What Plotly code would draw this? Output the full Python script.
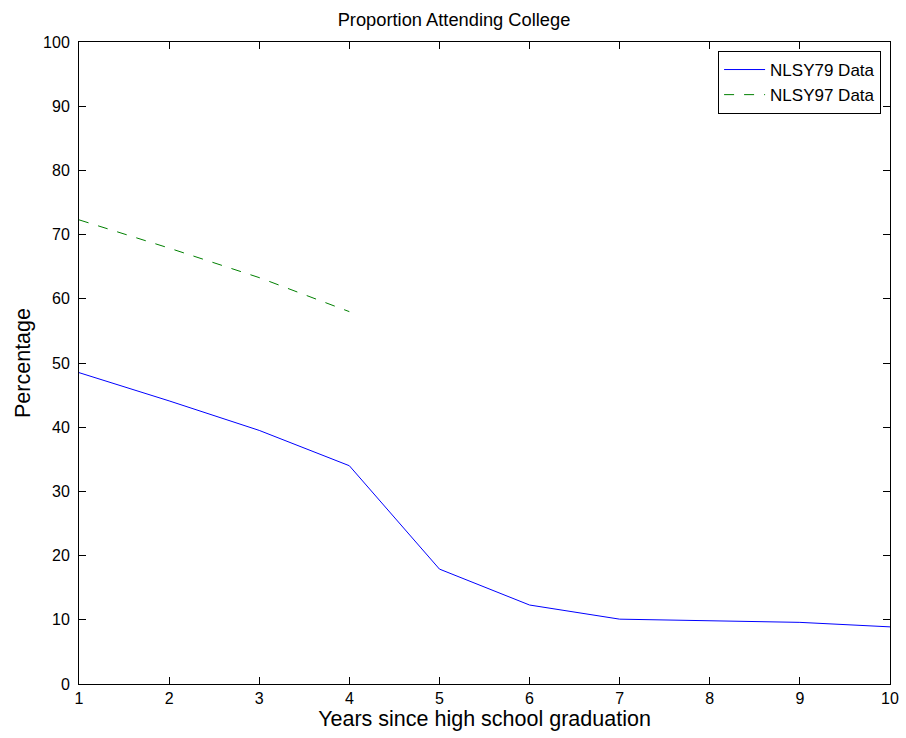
import plotly.graph_objects as go

years = [1, 2, 3, 4, 5, 6, 7, 8, 9, 10]
nlsy79 = [48.5, 44.1, 39.5, 34.0, 17.9, 12.3, 10.1, 9.8, 9.6, 8.9]
years97 = [1, 2, 3, 4]
nlsy97 = [72.3, 67.9, 63.3, 58.0]

fig = go.Figure()
fig.add_trace(go.Scatter(x=years, y=nlsy79, mode="lines", name="NLSY79 Data",
                         line=dict(color="#0000ff", width=1)))
fig.add_trace(go.Scatter(x=years97, y=nlsy97, mode="lines", name="NLSY97 Data",
                         line=dict(color="#008000", width=1, dash="10px,10px")))

axis_common = dict(showline=True, linecolor="black", linewidth=1, mirror="ticks",
                   ticks="inside", ticklen=7, tickcolor="black", showgrid=False,
                   zeroline=False, automargin=False, tickfont=dict(size=16, color="black"))

W, H = 906, 738
fig.update_layout(
    width=W, height=H,
    margin=dict(l=79, r=16, t=42, b=54),
    paper_bgcolor="white", plot_bgcolor="white",
    font=dict(family="Liberation Sans, Arial, sans-serif", color="black"),
    title=dict(text="Proportion Attending College", x=(454) / W, xanchor="center",
               y=1 - 20 / H, yanchor="middle", font=dict(size=18.3)),
    xaxis=dict(range=[1, 10], tickvals=years, title=dict(text="Years since high school graduation",
               font=dict(size=21.5), standoff=4), **axis_common),
    yaxis=dict(range=[0, 100], dtick=10, ticklabelstandoff=5,
               title=dict(text="Percentage", font=dict(size=21.5), standoff=6),
               **axis_common),
    legend=dict(x=0.989, y=0.986, xanchor="right", yanchor="top", bgcolor="white",
                bordercolor="black", borderwidth=1, font=dict(size=17),
                tracegroupgap=0, itemwidth=41),
    showlegend=True,
)

fig.write_html("out.html", config={"displayModeBar": False},
               post_script="document.body.style.margin='0';document.body.style.overflow='hidden';")
